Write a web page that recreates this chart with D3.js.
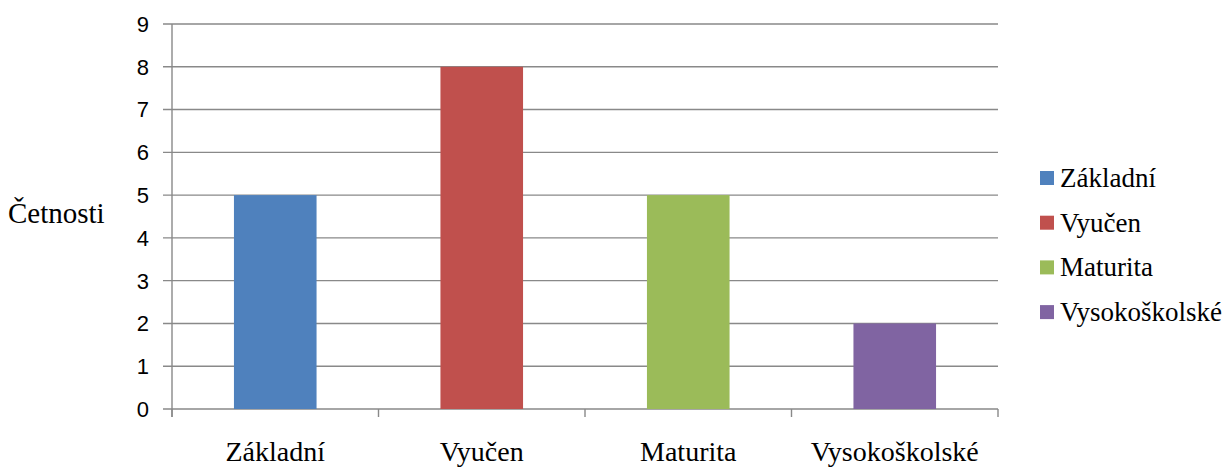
<!DOCTYPE html>
<html><head><meta charset="utf-8">
<script src="https://cdn.jsdelivr.net/npm/d3@7"></script>
<style>body{margin:0;background:#fff}svg{display:block}</style>
</head><body>
<svg id="c" width="1225" height="469"></svg>
<script>
const categories = ["Základní", "Vyučen", "Maturita", "Vysokoškolské"];
const values = [5, 8, 5, 2];
const colors = ["#4F81BD", "#C0504D", "#9BBB59", "#8064A2"];
const yTicks = [0,1,2,3,4,5,6,7,8,9];
const yTitle = "Četnosti";

const svg = d3.select("#c");
const L = 172, R = 998, T = 24, B = 409;
const x = d3.scaleBand().domain(categories).range([L, R]).padding(0);
const y = d3.scaleLinear().domain([0, 9]).range([B, T]);
const grid = "#898989";

// gridlines
svg.append("g").selectAll("line").data(yTicks).join("line")
  .attr("x1", 163).attr("x2", R).attr("y1", d => y(d)).attr("y2", d => y(d))
  .attr("stroke", grid).attr("stroke-width", 1.4);

// y axis line
svg.append("line").attr("x1", L).attr("x2", L).attr("y1", T).attr("y2", B + 8)
  .attr("stroke", grid).attr("stroke-width", 1.4);

// category ticks
const bounds = categories.map(c => x(c)).concat([R]);
svg.append("g").selectAll("line").data(bounds).join("line")
  .attr("x1", d => d).attr("x2", d => d).attr("y1", B).attr("y2", B + 8)
  .attr("stroke", grid).attr("stroke-width", 1.4);

// bars
const bw = x.bandwidth() * 0.4;
svg.append("g").selectAll("rect").data(categories).join("rect")
  .attr("x", d => x(d) + (x.bandwidth() - bw) / 2)
  .attr("width", bw)
  .attr("y", (d, i) => y(values[i]))
  .attr("height", (d, i) => y(0) - y(values[i]))
  .attr("fill", (d, i) => colors[i]);

// y tick labels
svg.append("g").selectAll("text").data(yTicks).join("text")
  .attr("x", 149).attr("y", d => y(d)).attr("dy", "0.36em")
  .attr("text-anchor", "end")
  .style("font-family", "'Liberation Sans', Arial, sans-serif").style("font-size", "22px")
  .text(d => d);

// x labels
svg.append("g").selectAll("text").data(categories).join("text")
  .attr("x", d => x(d) + x.bandwidth() / 2).attr("y", 461)
  .attr("text-anchor", "middle")
  .style("font-family", "'Liberation Serif', 'Times New Roman', serif").style("font-size", "28px")
  .text(d => d);

// y title
svg.append("text").attr("x", 8).attr("y", 223)
  .style("font-family", "'Liberation Serif', 'Times New Roman', serif").style("font-size", "29px")
  .text(yTitle);

// legend
const lg = svg.append("g").selectAll("g").data(categories).join("g")
  .attr("transform", (d, i) => `translate(1040, ${178 + i * 44.7})`);
lg.append("rect").attr("x", 0).attr("y", -7).attr("width", 14).attr("height", 14)
  .attr("fill", (d, i) => colors[i]);
lg.append("text").attr("x", 20).attr("y", 9)
  .style("font-family", "'Liberation Serif', 'Times New Roman', serif").style("font-size", "27px")
  .text(d => d);
</script>
</body></html>
